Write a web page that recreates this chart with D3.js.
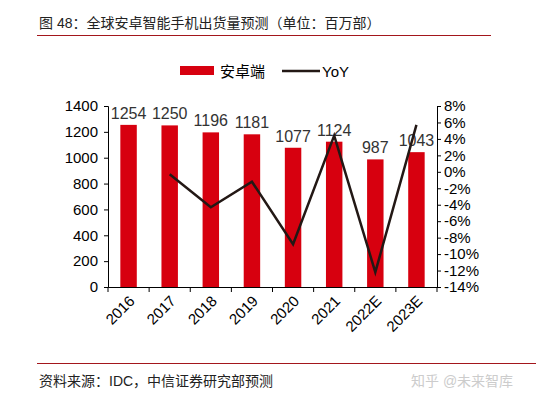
<!DOCTYPE html><html><head><meta charset="utf-8"><script src="https://cdn.jsdelivr.net/npm/d3@7"></script>
<style>body{margin:0;background:#fff}text{font-family:"Liberation Sans",Arial,"Noto Sans CJK SC",sans-serif}</style></head><body>
<svg id="c" width="536" height="405"></svg>
<script>
const categories=["2016","2017","2018","2019","2020","2021","2022E","2023E"];
const shipments=[1254,1250,1196,1181,1077,1124,987,1043];
const yoy=[null,-0.3,-4.3,-1.2,-8.8,4.4,-12.2,5.7];
const leftTicks=[0,200,400,600,800,1000,1200,1400];
const rightTicks=[-14,-12,-10,-8,-6,-4,-2,0,2,4,6,8];
const svg=d3.select("#c");
const cjk='"Noto Sans CJK SC",sans-serif';
svg.append("text").attr("x",39).attr("y",28).attr("font-size",14).attr("font-family",cjk).attr("fill","#222").text("图 48：全球安卓智能手机出货量预测（单位：百万部）");
svg.append("line").attr("x1",37).attr("x2",491).attr("y1",35.5).attr("y2",35.5).attr("stroke","#a3161c").attr("stroke-width",1);
svg.append("line").attr("x1",37).attr("x2",536).attr("y1",363.5).attr("y2",363.5).attr("stroke","#a3161c").attr("stroke-width",1);
svg.append("text").attr("x",39).attr("y",386).attr("font-size",14).attr("font-family",cjk).attr("fill","#222").text("资料来源：IDC，中信证券研究部预测");
svg.append("text").attr("x",411).attr("y",386).attr("font-size",14).attr("font-family",cjk).attr("fill","#ccc").text("知乎 @未来智库");
const x=d3.scaleBand().domain(categories).range([108,437]).paddingInner(0.6).paddingOuter(0.3);
const y=d3.scaleLinear().domain([0,1400]).range([287,106]);
const y2=d3.scaleLinear().domain([-14,8]).range([287,106]);
svg.append("rect").attr("x",180).attr("y",66).attr("width",34).attr("height",9).attr("fill","#d7000f");
svg.append("text").attr("x",220).attr("y",77).attr("font-size",15).attr("font-family",cjk).text("安卓端");
svg.append("line").attr("x1",282).attr("x2",320).attr("y1",71).attr("y2",71).attr("stroke","#231815").attr("stroke-width",2.5);
svg.append("text").attr("x",322).attr("y",77).attr("font-size",15).text("YoY");
svg.selectAll(".bar").data(shipments).join("rect").attr("x",(d,i)=>x(categories[i])).attr("width",x.bandwidth()).attr("y",d=>y(d)).attr("height",d=>287-y(d)).attr("fill","#d7000f");
svg.selectAll(".bl").data(shipments).join("text").attr("x",(d,i)=>x(categories[i])+x.bandwidth()/2).attr("y",d=>y(d)-6).attr("text-anchor","middle").attr("font-size",16).attr("fill","#333").attr("font-family","Liberation Serif, serif").text(d=>d);
const la=svg.append("g").attr("transform","translate(108,0)").call(d3.axisLeft(y).tickValues(leftTicks).tickSize(4).tickFormat(d3.format("d")));
const ra=svg.append("g").attr("transform","translate(437,0)").call(d3.axisRight(y2).tickValues(rightTicks).tickSize(4).tickFormat(d=>d+"%"));
const xa=svg.append("g").attr("transform","translate(0,287)").call(d3.axisBottom(x).tickSize(0).tickFormat(""));
[la,ra,xa].forEach(g=>{g.selectAll("path,line").attr("stroke","#000");g.selectAll("text").attr("font-size",15).attr("fill","#000").attr("font-family","Liberation Sans, Arial")});
la.selectAll("text").attr("x",-10);
svg.selectAll(".xt").data(d3.range(categories.length+1)).join("line").attr("x1",d=>108+d*(329/8)).attr("x2",d=>108+d*(329/8)).attr("y1",287).attr("y2",292).attr("stroke","#000");
svg.selectAll(".xl").data(categories).join("text").attr("transform",d=>`translate(${x(d)+x.bandwidth()/2+7},${302}) rotate(-45)`).attr("text-anchor","end").attr("font-size",15).text(d=>d);
const pts=yoy.map((v,i)=>[x(categories[i])+x.bandwidth()/2,v]).filter(p=>p[1]!==null);
svg.append("path").datum(pts).attr("d",d3.line().x(p=>p[0]).y(p=>y2(p[1]))).attr("fill","none").attr("stroke","#231815").attr("stroke-width",2.5);
</script></body></html>
